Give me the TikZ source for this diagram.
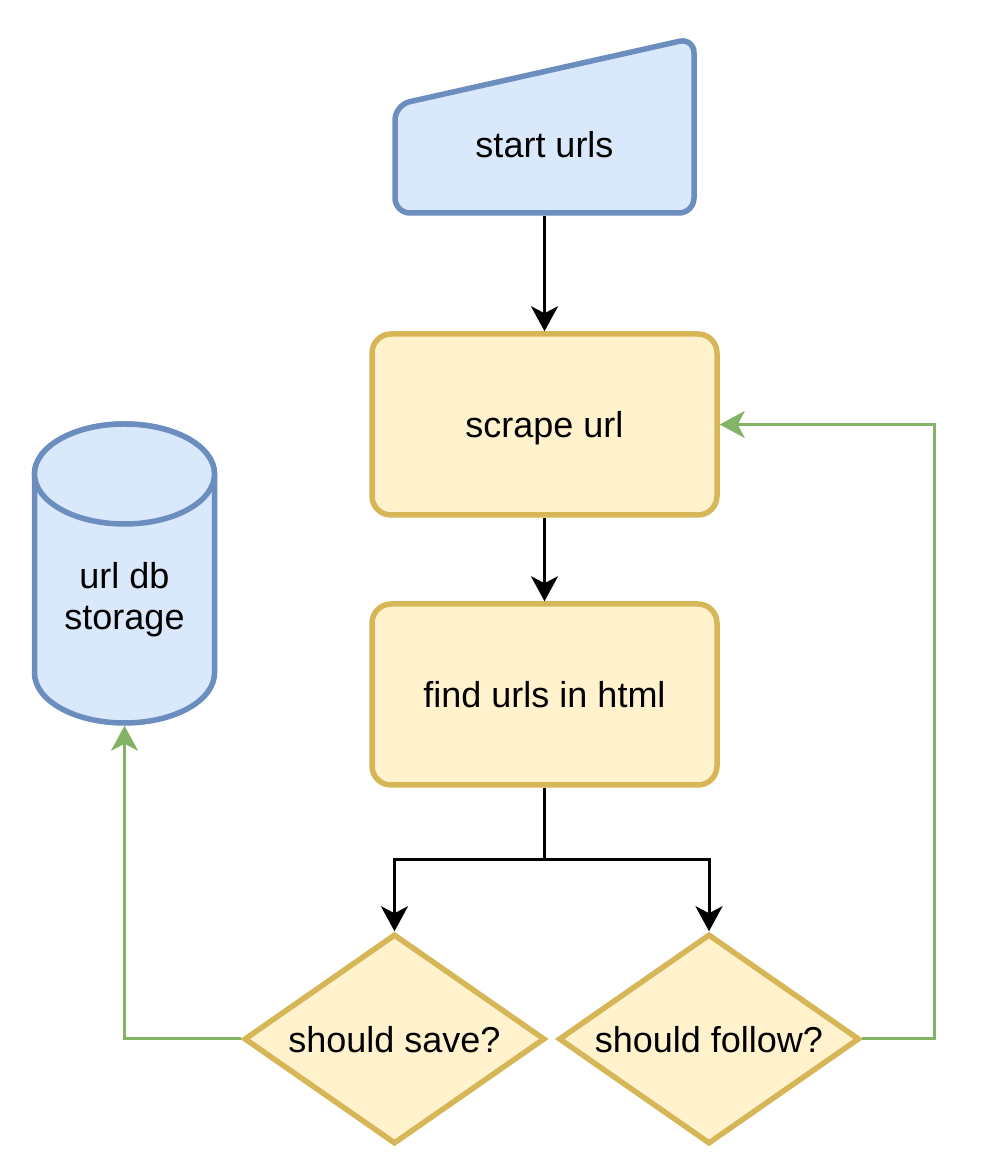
\documentclass[tikz,border=0pt]{standalone}
\usepackage{fontspec}
\setmainfont{Liberation Sans}
\usepackage{xcolor}
\usetikzlibrary{arrows.meta,shapes.geometric,positioning}

\definecolor{bluefill}{HTML}{DAE8FC}
\definecolor{bluedraw}{HTML}{6C8EBF}
\definecolor{yellowfill}{HTML}{FFF2CC}
\definecolor{yellowdraw}{HTML}{D6B656}
\definecolor{greenline}{HTML}{82B366}

\begin{document}
\begin{tikzpicture}[x=1pt,y=1pt,
    font=\fontsize{36}{41}\selectfont,
    process/.style={draw=yellowdraw, fill=yellowfill, line width=5.5pt,
        rounded corners=19pt, minimum width=345pt, minimum height=181pt,
        inner sep=0pt, text height=27pt, text depth=0pt},
    decision/.style={diamond, aspect=1.433, draw=yellowdraw, fill=yellowfill,
        line width=5.5pt, minimum width=301pt, minimum height=210pt,
        inner sep=0pt, text height=27pt, text depth=0pt},
    flow/.style={line width=3pt, -{Stealth[length=25pt, width=27pt, inset=7pt]}},
    back/.style={draw=greenline, line width=3pt,
        -{Stealth[length=25pt, width=27pt, inset=7pt]}}]
    \useasboundingbox (0,0) rectangle (990,1176);

    % Manual input shape
    \draw[draw=bluedraw, fill=bluefill, line width=5.5pt, rounded corners=15pt]
        (395,963) -- (395,1071) -- (694,1138) -- (694,963) -- cycle;
    \node[minimum width=299pt, minimum height=137pt, inner sep=0pt, outer sep=2.75pt,
        text height=27pt, text depth=0pt] (start) at (544.5,1031.5) {start urls};

    % Process boxes
    \node[process] (scrape) at (544.5,751.5) {scrape url};
    \node[process] (find) at (544.5,481.5) {find urls in html};

    % Decisions
    \node[decision] (save) at (394.5,137) {should save?};
    \node[decision] (follow) at (709,137) {should follow?};

    % Cylinder
    \node[minimum width=180pt, minimum height=299pt, inner sep=0pt, outer sep=2.75pt]
        (db) at (124.5,602.5) {};
    \draw[draw=bluedraw, fill=bluefill, line width=5.5pt]
        (34.5,702) -- (34.5,503) arc[start angle=180, end angle=360, x radius=90pt, y radius=50pt]
        -- (214.5,702) arc[start angle=0, end angle=180, x radius=90pt, y radius=50pt] -- cycle;
    \draw[draw=bluedraw, fill=bluefill, line width=5.5pt]
        (124.5,702) ellipse[x radius=90pt, y radius=50pt];
    \node[align=center, inner sep=0pt] (dblabel) at (124.5,576.5) {url db\\storage};

    % Connectors
    \coordinate (split) at (544.5,316.5);
    \draw[flow] (start.south) -- (scrape.north);
    \draw[flow] (scrape.south) -- (find.north);
    \draw[flow] (find.south) -- (split) -| (save.north);
    \draw[flow] (split) -| (follow.north);
    \draw[back] (save.west) -| (db.south);
    \draw[back] (follow.east) -- ++(72.5,0) |- (scrape.east);
\end{tikzpicture}
\end{document}
